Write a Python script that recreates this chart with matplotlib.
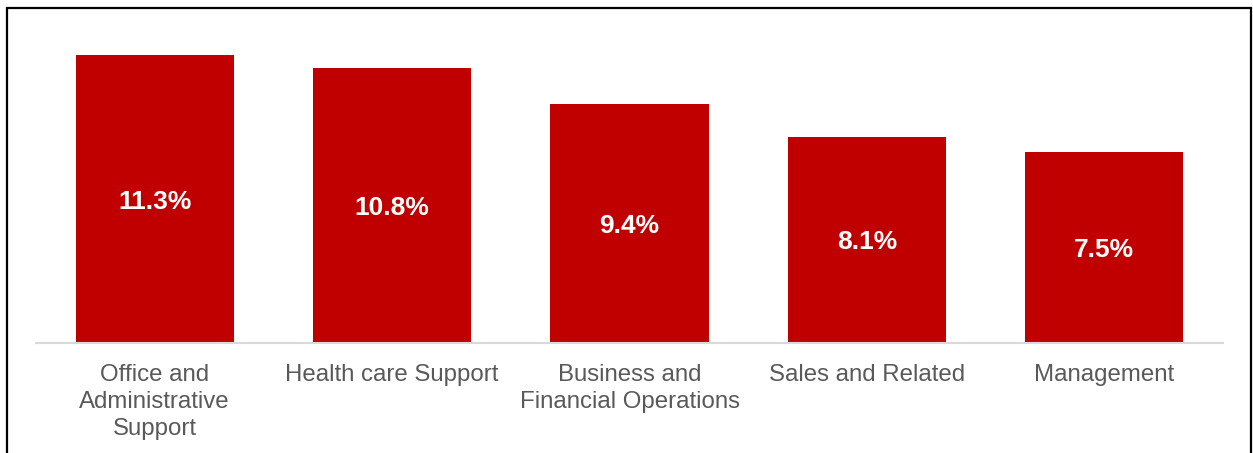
import matplotlib.pyplot as plt
from matplotlib.patches import Rectangle

plt.rcParams['font.family'] = ['Liberation Sans', 'DejaVu Sans']

categories = ['Office and\nAdministrative\nSupport', 'Health care Support',
              'Business and\nFinancial Operations', 'Sales and Related', 'Management']
shares = [11.3, 10.8, 9.4, 8.1, 7.5]

W, H = 1253, 453
fig = plt.figure(figsize=(W / 100, H / 100), dpi=100)
ax = fig.add_axes([36 / W, 1 - 343 / H, (1223 - 36) / W, (343 - 37.6) / H])

x = range(len(categories))
bars = ax.bar(x, shares, width=0.666, color='#C00000', zorder=2)
for b, v in zip(bars, shares):
    ax.text(b.get_x() + b.get_width() / 2, v / 2, f'{v}%', ha='center', va='center_baseline',
            color='white', fontsize=19, fontweight='bold')

ax.set_xlim(-0.5, len(categories) - 0.5)
ax.set_ylim(0, 12)
ax.set_yticks([])
ax.set_xticks(list(x))
ax.set_xticklabels(categories, fontsize=17.3, color='#595959', linespacing=1.31)
ax.tick_params(axis='x', length=0, pad=15)
for side in ['top', 'left', 'right']:
    ax.spines[side].set_visible(False)
ax.spines['bottom'].set_color('#D9D9D9')
ax.spines['bottom'].set_linewidth(1.5)

# outer frame
fig.patches.append(Rectangle((6.5 / W, -0.05), (1251 - 6.5) / W, 1.05 - 8.5 / H,
                             transform=fig.transFigure, fill=False,
                             edgecolor='black', linewidth=1.6))

fig.savefig('out.png', dpi=100)
